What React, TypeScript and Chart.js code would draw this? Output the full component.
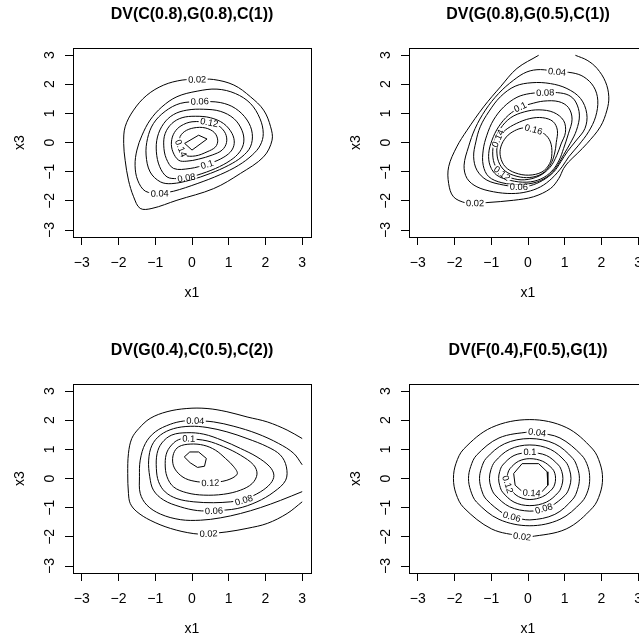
import React, { useEffect, useRef } from "react";
import { Chart, registerables } from "chart.js";

Chart.register(...registerables);

type Pt = [number, number];
type Lab = [number, number, number]; // level index, x, y

const FONT = "'Liberation Sans', Arial, Helvetica, sans-serif";
const levels = ["0.02", "0.04", "0.06", "0.08", "0.1", "0.12", "0.14", "0.16"];
const tickValues = [-3, -2, -1, 0, 1, 2, 3];
const axisMin = -3.24;
const axisMax = 3.24;
const xLabel = "x1";
const yLabel = "x3";
const titles = [
  "DV(C(0.8),G(0.8),C(1))",
  "DV(G(0.8),G(0.5),C(1))",
  "DV(G(0.4),C(0.5),C(2))",
  "DV(F(0.4),F(0.5),G(1))",
];

// ---------- Panel 1: DV(C(0.8),G(0.8),C(1)) ----------
const p1c1: Pt[] = [[-1.41,-2.26],[-1.09,-2.26],[-0.41,-1.98],[0.59,-1.58],[1.32,-1.06],[1.95,-0.49],[2.18,0.08],[2.14,0.54],[1.95,1.11],[1.59,1.57],[1.14,1.97],[0.59,2.16],[0.14,2.16],[-0.27,2.14],[-0.77,1.97],[-1.23,1.62],[-1.59,1.11],[-1.82,0.54],[-1.86,-0.03],[-1.82,-0.61],[-1.73,-1.29],[-1.59,-1.86]];
const p1c2: Pt[] = [[-1.27,-1.67],[-1.48,-1.29],[-1.55,-0.78],[-1.5,-0.26],[-1.36,0.25],[-1.14,0.77],[-0.82,1.22],[-0.41,1.57],[0.14,1.76],[0.68,1.83],[1.18,1.68],[1.59,1.34],[1.85,0.82],[1.94,0.31],[1.86,-0.09],[1.64,-0.43],[1.27,-0.78],[0.77,-1.1],[0.14,-1.41],[-0.5,-1.67],[-0.88,-1.75]];
const p1c3: Pt[] = [[-0.86,-1.35],[-1.14,-1.01],[-1.25,-0.43],[-1.21,0.14],[-1.05,0.65],[-0.73,1.07],[-0.32,1.34],[0.21,1.41],[0.77,1.37],[1.18,1.17],[1.5,0.77],[1.64,0.31],[1.59,-0.15],[1.36,-0.49],[1.0,-0.78],[0.5,-1.06],[-0.05,-1.29],[-0.55,-1.41]];
const p1c4: Pt[] = [[-0.68,-1.18],[-0.88,-0.83],[-0.97,-0.32],[-0.94,0.19],[-0.77,0.65],[-0.5,0.96],[-0.14,1.11],[0.32,1.14],[0.77,1.07],[1.14,0.82],[1.36,0.42],[1.41,0.02],[1.3,-0.32],[1.05,-0.61],[0.64,-0.89],[0.14,-1.12],[-0.15,-1.21],[-0.4,-1.24]];
const p1c5: Pt[] = [[-0.5,-0.89],[-0.7,-0.55],[-0.77,-0.09],[-0.73,0.31],[-0.55,0.65],[-0.27,0.85],[0.09,0.9],[0.5,0.85],[0.86,0.65],[1.09,0.31],[1.15,-0.03],[1.05,-0.32],[0.77,-0.57],[0.41,-0.75],[-0.05,-0.89]];
const p1c6: Pt[] = [[-0.36,-0.61],[-0.52,-0.32],[-0.56,0.02],[-0.48,0.34],[-0.3,0.57],[0.0,0.71],[0.47,0.69],[0.73,0.57],[0.91,0.31],[0.94,0.0],[0.82,-0.26],[0.55,-0.43],[0.18,-0.57],[-0.14,-0.64]];
const p1c7: Pt[] = [[-0.21,-0.43],[-0.3,-0.2],[-0.34,0.14],[-0.21,0.37],[0.05,0.5],[0.36,0.5],[0.61,0.34],[0.7,0.08],[0.64,-0.15],[0.41,-0.32],[0.09,-0.46]];
const p1c8: Pt[] = [[-0.2,-0.03],[0.18,0.25],[0.41,0.12],[0.0,-0.26]];
const p1Labels: Lab[] = [[0,0.14,2.16],[1,-0.88,-1.75],[2,0.21,1.41],[3,-0.15,-1.21],[4,0.41,-0.75],[5,0.47,0.69],[6,-0.3,-0.2]];

// ---------- Panel 2: DV(G(0.8),G(0.5),C(1)) ----------
const p2c1: Pt[] = [[1.29,2.99],[1.61,2.82],[1.88,2.54],[2.11,2.08],[2.2,1.57],[2.15,1.11],[1.97,0.54],[1.61,-0.03],[1.34,-0.38],[1.11,-0.66],[0.97,-0.89],[0.84,-1.23],[0.61,-1.58],[0.15,-1.86],[-0.39,-1.98],[-1.12,-2.06],[-1.44,-2.08],[-1.7,-2.07],[-2.03,-1.86],[-2.16,-1.41],[-2.16,-0.83],[-1.94,-0.15],[-1.66,0.42],[-1.21,1.22],[-0.75,1.91],[-0.3,2.54],[0.29,2.99]];
const p2c2: Pt[] = [[0.79,2.42],[0.34,2.5],[-0.03,2.42],[-0.39,2.14],[-0.8,1.68],[-1.16,1.11],[-1.44,0.48],[-1.62,-0.15],[-1.74,-0.78],[-1.66,-1.23],[-1.39,-1.52],[-0.94,-1.69],[-0.44,-1.75],[-0.03,-1.69],[0.34,-1.52],[0.65,-1.23],[0.93,-0.83],[1.11,-0.49],[1.38,-0.09],[1.65,0.37],[1.84,0.88],[1.9,1.45],[1.79,1.91],[1.52,2.25],[1.2,2.39]];
const p2c3: Pt[] = [[-0.25,-1.52],[-0.66,-1.46],[-1.12,-1.29],[-1.39,-0.95],[-1.48,-0.49],[-1.42,0.02],[-1.3,0.54],[-1.07,1.05],[-0.75,1.57],[-0.35,1.93],[0.11,2.05],[0.61,2.02],[1.06,1.85],[1.43,1.51],[1.6,0.99],[1.55,0.48],[1.3,0.05],[1.08,-0.3],[0.9,-0.65],[0.7,-1.01],[0.4,-1.3],[0.06,-1.48]];
const p2c4: Pt[] = [[0.47,1.71],[0.06,1.68],[-0.3,1.55],[-0.66,1.22],[-0.94,0.77],[-1.12,0.25],[-1.22,-0.26],[-1.22,-0.78],[-1.07,-1.17],[-0.71,-1.38],[-0.21,-1.44],[0.25,-1.35],[0.6,-1.1],[0.82,-0.75],[0.98,-0.4],[1.15,-0.03],[1.32,0.42],[1.4,0.94],[1.3,1.39],[1.11,1.62],[0.8,1.71]];
const p2c5: Pt[] = [[-0.21,1.22],[-0.53,0.94],[-0.8,0.54],[-0.98,0.08],[-1.07,-0.38],[-1.03,-0.8],[-0.85,-1.12],[-0.48,-1.3],[-0.03,-1.36],[0.35,-1.25],[0.65,-0.98],[0.85,-0.6],[0.97,-0.2],[1.1,0.3],[1.2,0.8],[1.1,1.2],[0.84,1.4],[0.43,1.42],[0.06,1.32]];
const p2c6: Pt[] = [[-0.71,-1.06],[-0.89,-0.8],[-0.96,-0.43],[-0.92,0.02],[-0.75,0.48],[-0.47,0.85],[-0.1,1.05],[0.3,1.12],[0.7,1.03],[0.97,0.75],[1.02,0.35],[0.9,-0.05],[0.78,-0.45],[0.6,-0.85],[0.3,-1.15],[-0.1,-1.28],[-0.45,-1.22]];
const p2c7: Pt[] = [[-0.82,0.14],[-0.85,-0.26],[-0.8,-0.66],[-0.62,-0.98],[-0.3,-1.16],[0.05,-1.2],[0.38,-1.07],[0.6,-0.78],[0.72,-0.4],[0.77,0.0],[0.8,0.42],[0.68,0.72],[0.4,0.85],[0.05,0.82],[-0.32,0.65],[-0.62,0.42]];
const p2c8: Pt[] = [[0.15,0.45],[0.45,0.29],[0.61,0.02],[0.65,-0.38],[0.59,-0.72],[0.38,-1.01],[0.02,-1.12],[-0.35,-1.04],[-0.62,-0.83],[-0.75,-0.49],[-0.74,-0.15],[-0.59,0.19],[-0.37,0.4],[-0.12,0.5]];
const p2Labels: Lab[] = [[0,-1.44,-2.08],[1,0.79,2.42],[2,-0.25,-1.52],[3,0.47,1.71],[4,-0.21,1.22],[5,-0.71,-1.06],[6,-0.82,0.14],[7,0.15,0.45]];

// ---------- Panel 3: DV(G(0.4),C(0.5),C(2)) ----------
const p3c1: Pt[] = [[3.0,1.37],[2.59,1.66],[2.05,1.94],[1.5,2.11],[0.95,2.29],[0.41,2.4],[-0.14,2.4],[-0.68,2.29],[-1.14,2.06],[-1.45,1.71],[-1.64,1.37],[-1.73,0.86],[-1.75,0.17],[-1.73,-0.51],[-1.68,-0.86],[-1.5,-1.14],[-1.14,-1.43],[-0.59,-1.71],[0.05,-1.89],[0.45,-1.89],[0.95,-1.83],[1.5,-1.71],[2.05,-1.54],[2.59,-1.2],[3.0,-0.8]];
const p3c2: Pt[] = [[3.0,0.47],[2.77,0.86],[2.36,1.2],[1.77,1.54],[1.14,1.79],[0.59,1.94],[0.09,1.98],[-0.23,1.97],[-0.59,1.86],[-1.0,1.6],[-1.27,1.2],[-1.41,0.63],[-1.43,0.06],[-1.41,-0.51],[-1.23,-0.91],[-0.86,-1.22],[-0.32,-1.41],[0.23,-1.43],[0.77,-1.35],[1.32,-1.2],[1.86,-1.0],[2.41,-0.75],[3.0,-0.45]];
const p3c3: Pt[] = [[0.6,-1.11],[1.23,-1.03],[1.77,-0.8],[2.23,-0.46],[2.55,-0.06],[2.57,0.4],[2.41,0.8],[2.05,1.09],[1.5,1.37],[0.95,1.6],[0.41,1.75],[-0.05,1.79],[-0.5,1.71],[-0.86,1.49],[-1.09,1.14],[-1.18,0.63],[-1.15,0.06],[-1.05,-0.4],[-0.77,-0.74],[-0.32,-0.97],[0.15,-1.1]];
const p3c4: Pt[] = [[1.41,-0.74],[1.86,-0.46],[2.14,-0.17],[2.23,0.11],[2.12,0.4],[1.77,0.74],[1.32,1.03],[0.82,1.31],[0.32,1.52],[-0.14,1.57],[-0.55,1.49],[-0.82,1.22],[-0.95,0.86],[-0.97,0.34],[-0.91,-0.11],[-0.73,-0.46],[-0.41,-0.69],[0.05,-0.8],[0.59,-0.83],[1.05,-0.8]];
const p3c5: Pt[] = [[-0.09,1.37],[0.41,1.29],[0.86,1.09],[1.32,0.8],[1.68,0.46],[1.77,0.15],[1.64,-0.17],[1.32,-0.4],[0.86,-0.54],[0.32,-0.57],[-0.14,-0.49],[-0.5,-0.29],[-0.68,0.06],[-0.73,0.51],[-0.68,0.91],[-0.5,1.22],[-0.32,1.35]];
const p3c6: Pt[] = [[0.5,-0.15],[0.95,-0.06],[1.23,0.15],[1.14,0.4],[0.91,0.69],[0.64,0.97],[0.32,1.14],[-0.05,1.18],[-0.36,1.09],[-0.5,0.86],[-0.52,0.51],[-0.41,0.23],[-0.18,0.0],[0.14,-0.11]];
const p3c7: Pt[] = [[-0.21,0.74],[-0.06,0.91],[0.18,0.91],[0.39,0.69],[0.34,0.42],[0.15,0.38],[-0.05,0.54]];
const p3Labels: Lab[] = [[0,0.45,-1.89],[1,0.09,1.98],[2,0.6,-1.11],[3,1.41,-0.74],[4,-0.09,1.37],[5,0.5,-0.15]];

// ---------- Panel 4: DV(F(0.4),F(0.5),G(1)) ----------
const p4c1: Pt[] = [[2.03,0],[1.96,0.52],[1.76,1.01],[1.04,1.75],[0.05,2.02],[-0.99,1.75],[-1.75,1.01],[-1.96,0.52],[-2.03,0],[-1.96,-0.52],[-1.75,-1.0],[-0.99,-1.73],[-0.16,-1.99],[0.05,-2.0],[1.04,-1.73],[1.76,-1.0],[1.96,-0.52]];
const p4c2: Pt[] = [[1.68,0],[1.63,0.41],[1.46,0.8],[0.87,1.39],[0.25,1.58],[0.05,1.6],[-0.79,1.39],[-1.4,0.8],[-1.56,0.41],[-1.62,0],[-1.56,-0.42],[-1.4,-0.81],[-0.79,-1.4],[0.05,-1.62],[0.87,-1.4],[1.46,-0.81],[1.63,-0.42]];
const p4c3: Pt[] = [[1.4,0],[1.35,0.35],[1.22,0.69],[0.73,1.19],[0.05,1.37],[-0.64,1.19],[-1.14,0.69],[-1.27,0.35],[-1.32,0],[-1.27,-0.37],[-1.14,-0.71],[-0.64,-1.23],[-0.44,-1.31],[0.05,-1.42],[0.73,-1.23],[1.22,-0.71],[1.35,-0.37]];
const p4c4: Pt[] = [[1.17,0],[1.13,0.3],[1.02,0.58],[0.61,1.0],[0.05,1.15],[-0.5,1.0],[-0.9,0.58],[-1.01,0.3],[-1.05,0],[-1.01,-0.29],[-0.9,-0.56],[-0.5,-0.97],[0.05,-1.12],[0.43,-1.03],[0.61,-0.97],[1.02,-0.56],[1.13,-0.29]];
const p4c5: Pt[] = [[0.95,0],[0.92,0.24],[0.83,0.46],[0.5,0.79],[0.05,0.91],[-0.38,0.79],[-0.69,0.46],[-0.77,0.24],[-0.8,0],[-0.77,-0.24],[-0.69,-0.47],[-0.38,-0.81],[0.05,-0.93],[0.5,-0.81],[0.83,-0.47],[0.92,-0.24]];
const p4c6: Pt[] = [[0.75,0],[0.73,0.18],[0.66,0.34],[0.4,0.59],[0.05,0.68],[-0.26,0.59],[-0.49,0.34],[-0.55,0.18],[-0.57,0],[-0.55,-0.2],[-0.49,-0.36],[-0.26,-0.62],[0.05,-0.72],[0.4,-0.62],[0.66,-0.36],[0.73,-0.19]];
const p4c7: Pt[] = [[-0.16,0.51],[0.29,0.51],[0.52,0.23],[0.54,-0.23],[0.34,-0.51],[-0.12,-0.49],[-0.35,-0.23],[-0.39,0.17]];
const p4Labels: Lab[] = [[0,-0.16,-1.99],[1,0.25,1.58],[2,-0.44,-1.31],[3,0.43,-1.03],[4,0.05,0.91],[5,-0.55,-0.2],[6,0.1,-0.5]];

interface Panel {
  title: string;
  contours: Pt[][];
  open: number[];
  sharp: number[];
  labels: Lab[];
}

const panels: Panel[] = [
  { title: titles[0], contours: [p1c1, p1c2, p1c3, p1c4, p1c5, p1c6, p1c7, p1c8], open: [], sharp: [7], labels: p1Labels },
  { title: titles[1], contours: [p2c1, p2c2, p2c3, p2c4, p2c5, p2c6, p2c7, p2c8], open: [0], sharp: [], labels: p2Labels },
  { title: titles[2], contours: [p3c1, p3c2, p3c3, p3c4, p3c5, p3c6, p3c7], open: [0, 1], sharp: [6], labels: p3Labels },
  { title: titles[3], contours: [p4c1, p4c2, p4c3, p4c4, p4c5, p4c6, p4c7], open: [], sharp: [6], labels: p4Labels },
];

const PANEL = 336;
const UX = 36.67; // approx px per unit, only used to pick the loop start nearest a label
const UY = 29.17;

function fmtTick(v: number): string {
  return v < 0 ? "\u2212" + Math.abs(v) : String(v);
}

// closed loops start (and end) under their label so the join is hidden by the label gap
function buildLines(panel: Panel): Pt[][] {
  return panel.contours.map((pts, i) => {
    if (panel.open.includes(i)) return pts;
    const lab = panel.labels.find((l) => l[0] === i);
    let s = 0;
    if (lab) {
      let best = Infinity;
      pts.forEach(([x, y], k) => {
        const d = ((x - lab[1]) * UX) ** 2 + ((y - lab[2]) * UY) ** 2;
        if (d < best) {
          best = d;
          s = k;
        }
      });
    }
    const r = [...pts.slice(s), ...pts.slice(0, s)];
    return [...r, r[0]];
  });
}

function ContourChart({ panel }: { panel: Panel }) {
  const ref = useRef<HTMLCanvasElement>(null);
  useEffect(() => {
    const canvas = ref.current;
    if (!canvas) return;
    const lines = buildLines(panel);
    const datasets = lines.map((pts, i) => ({
      label: levels[i],
      data: pts.map(([x, y]) => ({ x, y })),
      borderColor: "#000",
      borderWidth: 1,
      pointRadius: 0,
      pointHoverRadius: 0,
      fill: false,
      tension: panel.sharp.includes(i) ? 0 : 0.35,
    }));

    const labelPlugin = {
      id: "contourLabels",
      afterDatasetsDraw(chart: any) {
        const ctx = chart.ctx as CanvasRenderingContext2D;
        const xs = chart.scales.x;
        const ys = chart.scales.y;
        ctx.save();
        ctx.font = `9.3px ${FONT}`;
        ctx.textAlign = "center";
        ctx.textBaseline = "middle";
        for (const [li, lx, ly] of panel.labels) {
          const text = levels[li];
          const pts = lines[li].map(([a, b]) => [xs.getPixelForValue(a), ys.getPixelForValue(b)]);
          const px = xs.getPixelForValue(lx);
          const py = ys.getPixelForValue(ly);
          const cum = [0];
          for (let k = 1; k < pts.length; k++) {
            cum.push(cum[k - 1] + Math.hypot(pts[k][0] - pts[k - 1][0], pts[k][1] - pts[k - 1][1]));
          }
          let best = Infinity, s0 = 0, bx = px, by = py;
          for (let k = 0; k < pts.length - 1; k++) {
            const [x1, y1] = pts[k];
            const [x2, y2] = pts[k + 1];
            const dx = x2 - x1, dy = y2 - y1;
            const L2 = dx * dx + dy * dy;
            let t = L2 ? ((px - x1) * dx + (py - y1) * dy) / L2 : 0;
            t = Math.max(0, Math.min(1, t));
            const qx = x1 + t * dx, qy = y1 + t * dy;
            const d = (qx - px) ** 2 + (qy - py) ** 2;
            if (d < best) {
              best = d;
              s0 = cum[k] + t * Math.sqrt(L2);
              bx = qx;
              by = qy;
            }
          }
          const total = cum[cum.length - 1];
          const closed = !panel.open.includes(li);
          const at = (s: number) => {
            if (closed) s = ((s % total) + total) % total;
            else s = Math.max(0, Math.min(total, s));
            let k = 0;
            while (k < pts.length - 2 && cum[k + 1] < s) k++;
            const len = cum[k + 1] - cum[k];
            const t = len ? (s - cum[k]) / len : 0;
            return [pts[k][0] + t * (pts[k + 1][0] - pts[k][0]), pts[k][1] + t * (pts[k + 1][1] - pts[k][1])];
          };
          const w = ctx.measureText(text).width;
          const A = at(s0 - w / 2);
          const B = at(s0 + w / 2);
          let ang = Math.atan2(B[1] - A[1], B[0] - A[0]);
          if (ang > Math.PI / 2) ang -= Math.PI;
          if (ang <= -Math.PI / 2) ang += Math.PI;
          ctx.save();
          ctx.translate(bx, by);
          ctx.rotate(ang);
          ctx.fillStyle = "#fff";
          ctx.fillRect(-w / 2 - 1.5, -2.5, w + 3, 5);
          ctx.fillStyle = "#000";
          ctx.fillText(text, 0, 0.5);
          ctx.restore();
        }
        ctx.restore();
      },
    };

    const boxPlugin = {
      id: "plotBox",
      afterDraw(chart: any) {
        const { left, top, right, bottom } = chart.chartArea;
        const ctx = chart.ctx as CanvasRenderingContext2D;
        ctx.save();
        ctx.strokeStyle = "#000";
        ctx.lineWidth = 1;
        const l = Math.round(left), t = Math.round(top), r = Math.round(right), b = Math.round(bottom);
        ctx.strokeRect(l + 0.5, t + 0.5, r - l, b - t);
        ctx.restore();
      },
    };

    const tickFont = { family: FONT, size: 14 };
    const chart = new Chart(canvas, {
      type: "line",
      data: { datasets: datasets as any },
      options: {
        animation: false,
        responsive: false,
        devicePixelRatio: 1,
        events: [],
        layout: { padding: { left: 0, right: 25, top: 0, bottom: 0 } },
        plugins: {
          legend: { display: false },
          tooltip: { enabled: false },
          title: {
            display: true,
            text: panel.title,
            fullSize: false,
            color: "#000",
            font: { family: FONT, size: 16, weight: "bold", lineHeight: 1.2 },
            padding: { top: 5.4, bottom: 23.4 },
          },
        },
        scales: {
          x: {
            type: "linear",
            min: axisMin,
            max: axisMax,
            afterBuildTicks: (s: any) => {
              s.ticks = tickValues.map((v) => ({ value: v }));
            },
            afterFit: (s: any) => {
              s.height = 99;
            },
            grid: { drawOnChartArea: false, drawTicks: true, tickLength: 8, color: "#000", lineWidth: 1 },
            border: { display: false },
            ticks: {
              color: "#000",
              font: tickFont,
              padding: 9.5,
              minRotation: 0,
              maxRotation: 0,
              autoSkip: false,
              callback: (v: any) => fmtTick(Number(v)),
            },
            title: { display: true, text: xLabel, color: "#000", font: tickFont, padding: { top: 0, bottom: 34.6 } },
          },
          y: {
            type: "linear",
            min: axisMin,
            max: axisMax,
            afterBuildTicks: (s: any) => {
              s.ticks = tickValues.map((v) => ({ value: v }));
            },
            afterFit: (s: any) => {
              s.width = 73;
            },
            grid: { drawOnChartArea: false, drawTicks: true, tickLength: 8, color: "#000", lineWidth: 1 },
            border: { display: false },
            ticks: {
              color: "#000",
              font: tickFont,
              padding: 7,
              minRotation: 90,
              maxRotation: 90,
              crossAlign: "center",
              autoSkip: false,
              callback: (v: any) => fmtTick(Number(v)),
            },
            title: { display: true, text: yLabel, color: "#000", font: tickFont, padding: { top: 11.6, bottom: 0 } },
          },
        },
      } as any,
      plugins: [labelPlugin, boxPlugin],
    });
    return () => chart.destroy();
  }, [panel]);
  return <canvas ref={ref} width={PANEL} height={PANEL} style={{ display: "block" }} />;
}

export default function App() {
  return (
    <div
      style={{
        position: "absolute",
        left: 0,
        top: 0,
        width: 639,
        height: 641,
        overflow: "hidden",
        background: "#fff",
      }}
    >
      {panels.map((p, i) => (
        <div
          key={i}
          style={{
            position: "absolute",
            left: (i % 2) * PANEL,
            top: Math.floor(i / 2) * PANEL,
            width: PANEL,
            height: PANEL,
          }}
        >
          <ContourChart panel={p} />
        </div>
      ))}
    </div>
  );
}
